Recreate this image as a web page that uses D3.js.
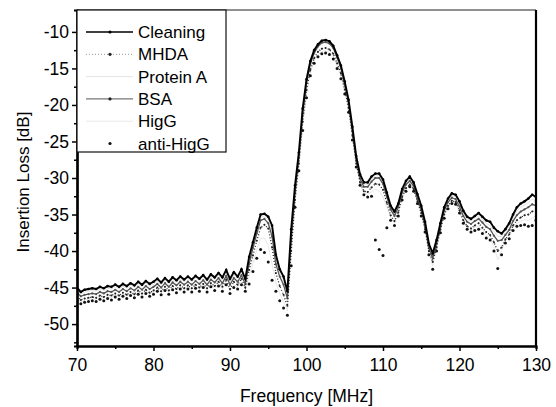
<!DOCTYPE html>
<html>
<head>
<meta charset="utf-8">
<script src="https://d3js.org/d3.v7.min.js"></script>
<style>
  body { margin: 0; background: #fff; }
  svg { font-family: "Liberation Sans", Arial, sans-serif; }
</style>
</head>
<body>
<svg id="chart"></svg>
<script>
// frequency grid [MHz], 0.5 MHz steps
const freq = d3.range(70, 130.01, 0.5);

const xticks = [70, 80, 90, 100, 110, 120, 130];
const yticks = [-10, -15, -20, -25, -30, -35, -40, -45, -50];

const seriesNames = ['Cleaning', 'MHDA', 'Protein A', 'BSA', 'HigG', 'anti-HigG'];

const cleaning = [
  -45.0, -45.6, -45.3, -45.2, -45.1, -45.2, -44.9, -45.1, -44.8, -44.9,
  -44.6, -44.9, -44.5, -44.8, -44.4, -44.7, -44.2, -44.6, -44.1, -44.5,
  -44.2, -43.8, -44.3, -43.7, -44.2, -43.6, -44.0, -43.5, -43.9, -43.5,
  -43.9, -43.4, -43.8, -43.3, -43.9, -43.2, -43.6, -43.0, -43.6, -42.6,
  -43.8, -42.9, -43.5, -42.5, -43.8, -40.8, -38.8, -36.8, -35.0, -34.9,
  -35.3, -36.5, -40.5, -42.5, -43.5, -45.5, -37.0, -31.0, -26.5, -20.5,
  -16.5, -14.0, -12.5, -11.7, -11.2, -11.1, -11.3, -11.9, -13.2, -14.6,
  -16.8, -19.3, -23.0, -27.0, -29.5, -30.6, -30.6, -29.8, -29.4, -29.4,
  -30.2, -32.0, -33.8, -34.6, -33.5, -31.5, -30.4, -29.8, -30.6, -32.2,
  -33.8, -36.0, -39.0, -40.3, -38.5, -36.2, -34.0, -32.8, -32.1, -32.3,
  -33.2, -34.5, -35.3, -35.6, -35.2, -34.8, -35.3, -35.8, -36.0, -36.8,
  -37.3, -37.6, -37.0, -36.2, -35.0, -34.0, -33.5, -33.2, -32.8, -32.3,
  -32.6
];

const mhda = [
  -46.2, -46.7, -46.5, -46.4, -46.3, -46.4, -46.1, -46.3, -46.0, -46.1,
  -45.8, -46.1, -45.7, -46.0, -45.6, -45.9, -45.4, -45.8, -45.3, -45.7,
  -45.4, -45.0, -45.5, -44.9, -45.4, -44.8, -45.2, -44.7, -45.1, -44.7,
  -45.1, -44.6, -45.0, -44.5, -45.1, -44.4, -44.8, -44.2, -44.9, -43.9,
  -45.2, -44.2, -44.6, -43.8, -45.0, -42.6, -40.6, -38.6, -36.8, -36.4,
  -36.9, -39.5, -43.0, -44.8, -46.0, -47.5, -40.0, -33.0, -28.0, -22.3,
  -18.0, -15.2, -13.6, -12.7, -12.3, -12.2, -12.4, -13.0, -14.3, -15.7,
  -17.9, -20.4, -24.2, -28.0, -30.6, -31.8, -31.9, -31.3, -30.8, -30.9,
  -31.6, -33.4, -35.1, -35.9, -34.7, -32.6, -31.4, -30.9, -31.5, -33.2,
  -34.8, -37.0, -40.0, -41.5, -39.5, -37.1, -35.0, -33.8, -33.1, -33.3,
  -34.4, -35.8, -36.6, -36.9, -36.5, -36.2, -36.8, -37.4, -37.8, -38.8,
  -40.0, -39.5, -38.4, -37.7, -36.5, -35.8, -35.4, -35.1, -35.0, -34.6,
  -34.4
];

const proteinA = [
  -45.4, -45.9, -45.6, -45.5, -45.4, -45.5, -45.2, -45.4, -45.1, -45.2,
  -44.9, -45.2, -44.8, -45.1, -44.7, -45.0, -44.5, -44.9, -44.4, -44.8,
  -44.5, -44.1, -44.6, -44.0, -44.5, -43.9, -44.3, -43.8, -44.2, -43.8,
  -44.2, -43.7, -44.1, -43.6, -44.2, -43.5, -43.9, -43.3, -44.0, -43.0,
  -44.2, -43.3, -43.8, -42.9, -44.1, -41.3, -39.2, -37.2, -35.4, -35.2,
  -35.7, -37.2, -41.1, -43.0, -44.0, -46.0, -37.8, -31.5, -26.8, -20.8,
  -16.7, -14.2, -12.7, -11.8, -11.3, -11.2, -11.4, -12.0, -13.3, -14.8,
  -17.0, -19.5, -23.3, -27.3, -29.8, -30.9, -30.9, -30.2, -29.7, -29.7,
  -30.5, -32.3, -34.0, -34.9, -33.8, -31.8, -30.7, -30.1, -30.9, -32.5,
  -34.1, -36.3, -39.3, -40.6, -38.8, -36.5, -34.2, -33.0, -32.4, -32.6,
  -33.5, -34.8, -35.6, -35.9, -35.5, -35.2, -35.7, -36.2, -36.5, -37.3,
  -38.0, -38.0, -37.4, -36.6, -35.5, -34.5, -34.0, -33.7, -33.4, -32.9,
  -33.2
];

const bsa = [
  -45.7, -46.2, -46.0, -45.9, -45.8, -45.9, -45.6, -45.8, -45.5, -45.6,
  -45.3, -45.6, -45.2, -45.5, -45.1, -45.4, -44.9, -45.3, -44.8, -45.2,
  -44.9, -44.5, -45.0, -44.4, -44.9, -44.3, -44.7, -44.2, -44.6, -44.2,
  -44.6, -44.1, -44.5, -44.0, -44.6, -43.9, -44.3, -43.7, -44.4, -43.4,
  -44.6, -43.7, -44.2, -43.3, -44.5, -41.8, -39.6, -37.6, -35.8, -35.6,
  -36.2, -38.0, -41.8, -43.5, -44.6, -46.5, -38.5, -32.0, -27.2, -21.2,
  -17.0, -14.4, -12.9, -12.0, -11.5, -11.4, -11.6, -12.2, -13.5, -15.0,
  -17.2, -19.8, -23.6, -27.6, -30.1, -31.2, -31.2, -30.5, -30.0, -30.0,
  -30.8, -32.6, -34.3, -35.2, -34.0, -32.0, -30.9, -30.4, -31.1, -32.8,
  -34.4, -36.6, -39.6, -41.0, -39.0, -36.7, -34.5, -33.3, -32.7, -32.9,
  -33.9, -35.2, -36.0, -36.3, -35.9, -35.6, -36.1, -36.7, -37.0, -37.9,
  -38.6, -38.5, -37.8, -37.1, -35.9, -35.1, -34.6, -34.3, -34.0, -33.6,
  -33.8
];

const higg = [
  -46.5, -47.0, -46.7, -46.6, -46.5, -46.6, -46.3, -46.5, -46.2, -46.4,
  -46.0, -46.3, -45.9, -46.2, -45.8, -46.1, -45.6, -46.0, -45.5, -45.9,
  -45.6, -45.2, -45.7, -45.1, -45.6, -45.0, -45.4, -44.9, -45.3, -44.9,
  -45.3, -44.8, -45.2, -44.7, -45.3, -44.6, -45.1, -44.5, -45.2, -44.3,
  -45.5, -44.6, -44.9, -44.2, -45.2, -43.5, -41.7, -39.8, -38.3, -38.2,
  -39.2, -41.8, -44.3, -45.8, -46.9, -48.2, -41.0, -33.5, -28.5, -22.9,
  -18.5, -15.6, -14.0, -13.1, -12.7, -12.6, -12.8, -13.4, -14.7, -16.1,
  -18.2, -20.7, -24.5, -28.2, -30.8, -32.0, -32.2, -31.9, -31.5, -31.8,
  -32.6, -34.0, -35.4, -36.2, -35.0, -32.8, -31.6, -31.0, -31.6, -33.3,
  -35.0, -37.2, -40.2, -42.0, -39.8, -37.3, -35.2, -34.0, -33.3, -33.5,
  -34.6, -36.0, -36.8, -37.1, -36.8, -36.6, -37.2, -37.8, -38.2, -39.4,
  -41.2, -40.0, -38.6, -38.0, -36.8, -36.2, -35.9, -35.7, -35.8, -35.5,
  -35.1
];

const antiHigg = [
  -46.8, -47.2, -47.0, -46.9, -46.8, -46.9, -46.6, -46.8, -46.5, -46.7,
  -46.3, -46.6, -46.2, -46.5, -46.1, -46.4, -45.9, -46.3, -45.8, -46.2,
  -45.9, -45.5, -46.0, -45.4, -45.9, -45.3, -45.7, -45.2, -45.6, -45.2,
  -45.6, -45.1, -45.5, -45.0, -45.6, -44.9, -45.4, -44.8, -45.5, -44.6,
  -45.8, -45.0, -45.2, -44.6, -45.5, -44.5, -42.8, -41.0, -39.8, -40.2,
  -41.5, -44.0, -45.5, -46.8, -47.8, -48.8, -42.0, -34.0, -29.0, -23.5,
  -19.0, -16.0, -14.3, -13.4, -13.0, -12.9, -13.1, -13.7, -15.0, -16.4,
  -18.5, -21.0, -24.8, -28.5, -31.0, -32.3, -32.6, -32.5, -38.5, -39.8,
  -40.6, -36.8, -35.8, -36.5, -35.2, -33.0, -31.8, -31.2, -31.8, -33.5,
  -35.2, -37.4, -40.5, -42.5, -40.0, -37.5, -35.5, -34.2, -33.5, -33.6,
  -34.8, -36.2, -37.0, -37.4, -37.2, -37.0, -37.6, -38.2, -38.5, -40.0,
  -42.4, -40.5, -38.9, -38.3, -37.2, -36.6, -36.5, -36.4, -36.6, -36.5,
  -35.8
];

class SpectrumChart {
    constructor (config, data) {
        this.config = {
            parent: config.parent,
            width: config.width || 556,
            height: config.height || 407,
            margin: config.margin || {top:10, right:20, bottom:61, left:77},
            xlabel: config.xlabel || '',
            ylabel: config.ylabel || '',
        };
        this.data = data;
        this.init();
    }

    init() {
        let self = this;

        self.svg = d3.select(self.config.parent)
            .attr('width', self.config.width)
            .attr('height', self.config.height);

        self.chart = self.svg.append('g')
            .attr('transform', `translate(${self.config.margin.left}, ${self.config.margin.top})`);

        self.inner_width = self.config.width - self.config.margin.left - self.config.margin.right;
        self.inner_height = self.config.height - self.config.margin.top - self.config.margin.bottom;

        self.xscale = d3.scaleLinear()
            .domain([70, 130])
            .range([0, self.inner_width]);

        self.yscale = d3.scaleLinear()
            .domain([-53, -7])
            .range([self.inner_height, 0]);

        self.chart.append('clipPath')
            .attr('id', 'plot-clip')
            .append('rect')
            .attr('width', self.inner_width)
            .attr('height', self.inner_height);

        self.data_group = self.chart.append('g')
            .attr('clip-path', 'url(#plot-clip)');

        self.svg.append('text')
            .style('font-size', '17.5px')
            .attr('x', self.config.margin.left + self.inner_width / 2)
            .attr('y', 402)
            .attr('text-anchor', 'middle')
            .text(self.config.xlabel);

        self.svg.append('text')
            .style('font-size', '17px')
            .attr('transform', `translate(29, ${self.config.margin.top + self.inner_height / 2 + 4}) rotate(-90)`)
            .attr('text-anchor', 'middle')
            .text(self.config.ylabel);
    }

    render() {
        let self = this;
        const x = self.xscale, y = self.yscale;

        const line = d3.line()
            .x((d, i) => x(freq[i]))
            .y(d => y(d));

        // draw order: light ones behind
        const order = [2, 4, 3, 1, 0, 5];
        order.forEach(k => {
            const s = self.data[k];
            if (s.line) {
                self.data_group.append('path')
                    .attr('d', line(s.values))
                    .attr('fill', 'none')
                    .attr('stroke', s.color)
                    .attr('stroke-width', s.width)
                    .attr('stroke-dasharray', s.dash || null);
            }
            if (s.dot) {
                self.data_group.append('g')
                    .selectAll('circle')
                    .data(s.values)
                    .join('circle')
                    .attr('cx', (d, i) => x(freq[i]))
                    .attr('cy', d => y(d))
                    .attr('r', s.dot)
                    .attr('fill', s.color);
            }
        });

        // frame: top and right
        self.chart.append('line')
            .attr('x1', 0).attr('x2', self.inner_width)
            .attr('y1', 0).attr('y2', 0)
            .attr('stroke', '#222').attr('stroke-width', 1.2);
        self.chart.append('line')
            .attr('x1', self.inner_width).attr('x2', self.inner_width)
            .attr('y1', 0).attr('y2', self.inner_height)
            .attr('stroke', '#000').attr('stroke-width', 2.2);

        // axes
        const xminor = self.chart.append('g')
            .attr('transform', `translate(0, ${self.inner_height})`)
            .call(d3.axisBottom(x).tickValues([75, 85, 95, 105, 115, 125]).tickSize(3).tickFormat(''));
        const yminor = self.chart.append('g')
            .call(d3.axisLeft(y).tickValues([-12.5, -17.5, -22.5, -27.5, -32.5, -37.5, -42.5, -47.5, -52.5]).tickSize(3).tickFormat(''));

        self.xaxis_group = self.chart.append('g')
            .attr('transform', `translate(0, ${self.inner_height})`)
            .call(d3.axisBottom(x).tickValues(xticks).tickSize(5).tickPadding(8).tickSizeOuter(0));

        self.yaxis_group = self.chart.append('g')
            .call(d3.axisLeft(y).tickValues(yticks).tickSize(5).tickPadding(3).tickSizeOuter(0));

        [xminor, yminor, self.xaxis_group, self.yaxis_group].forEach(g => {
            g.selectAll('.domain').attr('stroke', '#000').attr('stroke-width', 2.2);
            g.selectAll('.tick line').attr('stroke', '#000').attr('stroke-width', 1.5);
            g.selectAll('.tick text')
                .style('font-size', '17.5px')
                .style('font-family', '"Liberation Sans", Arial, sans-serif')
                .attr('fill', '#000');
        });
        self.yaxis_group.selectAll('.tick text').text(d => '-' + Math.abs(d));

        // legend box
        const legend = self.chart.append('g');
        legend.append('rect')
            .attr('x', 0).attr('y', 0)
            .attr('width', 149).attr('height', 142)
            .attr('fill', '#fff')
            .attr('stroke', '#111')
            .attr('stroke-width', 1.2);

        self.data.forEach((s, i) => {
            const row = legend.append('g')
                .attr('transform', `translate(0, ${22 + i * 22.3})`);
            if (s.line) {
                row.append('line')
                    .attr('x1', 9).attr('x2', 56)
                    .attr('y1', 0).attr('y2', 0)
                    .attr('stroke', s.legendColor || s.color)
                    .attr('stroke-width', s.legendWidth || s.width)
                    .attr('stroke-dasharray', s.dash || null);
            }
            if (s.dot) {
                row.append('circle')
                    .attr('cx', 33).attr('cy', 0)
                    .attr('r', 1.6)
                    .attr('fill', s.legendDot || s.legendColor || s.color);
            }
            row.append('text')
                .attr('x', 61)
                .attr('y', 6)
                .style('font-size', '17px')
                .text(s.name);
        });
    }
}

const series = [
    {name: seriesNames[0], values: cleaning, color: '#000', width: 1.9, legendWidth: 1.3, line: true, dot: 1.3},
    {name: seriesNames[1], values: mhda, color: '#222', width: 1.3, line: true, dash: '1,2', dot: 1.0, legendColor: '#aaa', legendDot: '#222'},
    {name: seriesNames[2], values: proteinA, color: '#e4e4e4', width: 1, line: true, dot: 0},
    {name: seriesNames[3], values: bsa, color: '#555', width: 1.3, line: true, dot: 1.1, legendColor: '#777', legendDot: '#222'},
    {name: seriesNames[4], values: higg, color: '#e8e8e8', width: 1, line: true, dot: 0},
    {name: seriesNames[5], values: antiHigg, color: '#111', width: 1, line: false, dot: 1.5},
];

const chart = new SpectrumChart({
    parent: '#chart',
    width: 556,
    height: 407,
    margin: {top: 10, right: 20, bottom: 61, left: 77},
    xlabel: 'Frequency [MHz]',
    ylabel: 'Insertion Loss [dB]',
}, series);
chart.render();
</script>
</body>
</html>
